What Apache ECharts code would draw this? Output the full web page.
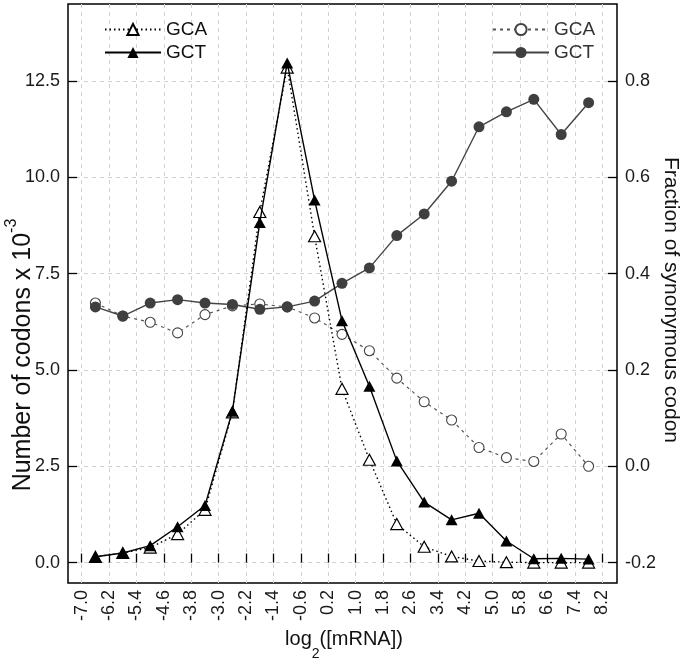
<!DOCTYPE html>
<html><head><meta charset="utf-8">
<script src="https://cdn.jsdelivr.net/npm/echarts@6/dist/echarts.min.js"></script>
<style>html,body{margin:0;padding:0;background:#fff}#c{width:683px;height:663px}</style>
</head><body><div id="c"></div>
<script>
// bin centres of log2([mRNA])
const xCenters = [-6.6, -5.8, -5.0, -4.2, -3.4, -2.6, -1.8, -1.0, -0.2, 0.6, 1.4, 2.2, 3.0, 3.8, 4.6, 5.4, 6.2, 7.0, 7.8];
// number of codons x 10^-3 (left axis)
const gcaCount = [0.15, 0.25, 0.39, 0.74, 1.37, 3.90, 9.10, 12.85, 8.47, 4.51, 2.67, 1.00, 0.41, 0.16, 0.04, 0.01, 0.00, 0.00, 0.00];
const gctCount = [0.15, 0.25, 0.44, 0.93, 1.48, 3.93, 8.83, 12.97, 9.41, 6.28, 4.58, 2.64, 1.57, 1.11, 1.28, 0.56, 0.10, 0.11, 0.09];
// fraction of synonymous codon (right axis)
const gcaFrac = [0.339, 0.312, 0.299, 0.277, 0.315, 0.333, 0.337, 0.331, 0.308, 0.274, 0.240, 0.183, 0.134, 0.096, 0.039, 0.018, 0.010, 0.067, 0.000];
const gctFrac = [0.331, 0.312, 0.339, 0.346, 0.339, 0.336, 0.326, 0.331, 0.343, 0.380, 0.412, 0.479, 0.524, 0.592, 0.705, 0.736, 0.762, 0.689, 0.755];

const xTickMin = -7.0, xTickMax = 8.2, xTickStep = 0.8;
const leftTickMin = 0, leftTickMax = 12.5, leftTickStep = 2.5;
const rightTickMin = -0.2, rightTickMax = 0.8, rightTickStep = 0.2;

const pairs = (xs, ys) => xs.map((x, i) => [x, ys[i]]);
const FONT = '"Liberation Sans", Arial, Helvetica, sans-serif';
const grid = { color: '#d2d2d2', type: [4, 4], width: 1 };
const tick = { inside: true, length: 9, lineStyle: { color: '#000', width: 1.3 } };

const chart = echarts.init(document.getElementById('c'));
chart.setOption({
  animation: false,
  textStyle: { fontFamily: FONT },
  grid: [
    { left: 68, right: 66, top: 4, bottom: 80, show: true, borderColor: '#000', borderWidth: 1.5, backgroundColor: 'transparent' },
    { left: 81.7, right: 80.7, top: 4, bottom: 80 },
    { left: 68, right: 66, top: 81, bottom: 100.3 }
  ],
  xAxis: [
    { gridIndex: 0, type: 'value', show: false, min: 0, max: 1 },
    { gridIndex: 1, type: 'value', min: xTickMin, max: xTickMax, interval: xTickStep,
      axisLine: { show: false }, axisTick: tick,
      axisLabel: { rotate: 90, margin: 7, fontSize: 18, color: '#1a1a1a', fontFamily: FONT, formatter: v => v.toFixed(1) },
      splitLine: { show: true, lineStyle: grid } },
    { gridIndex: 2, type: 'value', show: false, min: 0, max: 1 }
  ],
  yAxis: [
    { gridIndex: 1, type: 'value', show: false, min: -0.53, max: 14.5 },
    { gridIndex: 1, type: 'value', show: false, min: -0.2424, max: 0.96, position: 'right' },
    { gridIndex: 2, type: 'value', position: 'left', min: leftTickMin, max: leftTickMax, interval: leftTickStep,
      axisLine: { show: false }, axisTick: tick,
      axisLabel: { margin: 8, fontSize: 18, color: '#1a1a1a', fontFamily: FONT, formatter: v => v.toFixed(1) },
      splitLine: { show: true, lineStyle: grid } },
    { gridIndex: 2, type: 'value', position: 'right', min: rightTickMin, max: rightTickMax, interval: rightTickStep,
      axisLine: { show: false }, axisTick: tick,
      axisLabel: { margin: 8, fontSize: 18, color: '#1a1a1a', fontFamily: FONT, formatter: v => v.toFixed(1) },
      splitLine: { show: false } },
    { gridIndex: 0, type: 'value', show: false, min: 0, max: 1 }
  ],
  legend: [
    { data: ['GCA_n', 'GCT_n'], orient: 'vertical', left: 99, top: 15, itemWidth: 56, itemHeight: 14, itemGap: 4,
      formatter: n => n.split('_')[0], textStyle: { fontSize: 19, color: '#111', fontFamily: FONT }, selectedMode: false },
    { data: ['GCA_f', 'GCT_f'], orient: 'vertical', left: 487, top: 15, itemWidth: 56, itemHeight: 14, itemGap: 4,
      formatter: n => n.split('_')[0], textStyle: { fontSize: 19, color: '#333', fontFamily: FONT }, selectedMode: false }
  ],
  series: [
    { name: 'GCA_f', type: 'line', xAxisIndex: 1, yAxisIndex: 1, data: pairs(xCenters, gcaFrac),
      symbol: 'circle', symbolSize: 10, z: 2,
      itemStyle: { color: '#fff', borderColor: '#444', borderWidth: 1.1 },
      lineStyle: { color: '#555', width: 1.2, type: [3, 4] }, emphasis: { disabled: true } },
    { name: 'GCT_f', type: 'line', xAxisIndex: 1, yAxisIndex: 1, data: pairs(xCenters, gctFrac),
      symbol: 'circle', symbolSize: 11, z: 2,
      itemStyle: { color: '#3f3f3f', borderColor: '#3f3f3f', borderWidth: 0 },
      lineStyle: { color: '#444', width: 1.4, type: 'solid' }, emphasis: { disabled: true } },
    { name: 'GCA_n', type: 'line', xAxisIndex: 1, yAxisIndex: 0, data: pairs(xCenters, gcaCount),
      symbol: 'triangle', symbolSize: [12, 11], z: 3,
      itemStyle: { color: '#fff', borderColor: '#000', borderWidth: 1.2 },
      lineStyle: { color: '#000', width: 1.4, type: [1.5, 3] }, emphasis: { disabled: true } },
    { name: 'GCT_n', type: 'line', xAxisIndex: 1, yAxisIndex: 0, data: pairs(xCenters, gctCount),
      symbol: 'triangle', symbolSize: [12, 11], z: 4,
      itemStyle: { color: '#000', borderColor: '#000', borderWidth: 0 },
      lineStyle: { color: '#000', width: 1.4, type: 'solid' }, emphasis: { disabled: true } }
  ],
  graphic: [
    { type: 'text', x: 344, y: 642, style: {
        text: '{a|log}{s|2}{a|([mRNA])}', align: 'center', verticalAlign: 'middle', fill: '#111',
        rich: { a: { fontSize: 20, fontFamily: FONT, fill: '#111', lineHeight: 26, verticalAlign: 'top' },
                s: { fontSize: 14, fontFamily: FONT, fill: '#111', lineHeight: 26, verticalAlign: 'bottom', padding: [0, 0, -6, 0] } } } },
    { type: 'text', x: 20, y: 355, rotation: Math.PI / 2, style: {
        text: '{a|Number of codons x 10}{s|-3}', align: 'center', verticalAlign: 'middle', fill: '#111',
        rich: { a: { fontSize: 25, fontFamily: FONT, fill: '#111', lineHeight: 32, verticalAlign: 'bottom' },
                s: { fontSize: 16, fontFamily: FONT, fill: '#111', lineHeight: 32, verticalAlign: 'top' } } } },
    { type: 'text', x: 671, y: 300, rotation: -Math.PI / 2, style: {
        text: 'Fraction of synonymous codon', align: 'center', verticalAlign: 'middle',
        fontSize: 21, fontFamily: FONT, fill: '#111' } }
  ]
});
</script>
</body></html>
